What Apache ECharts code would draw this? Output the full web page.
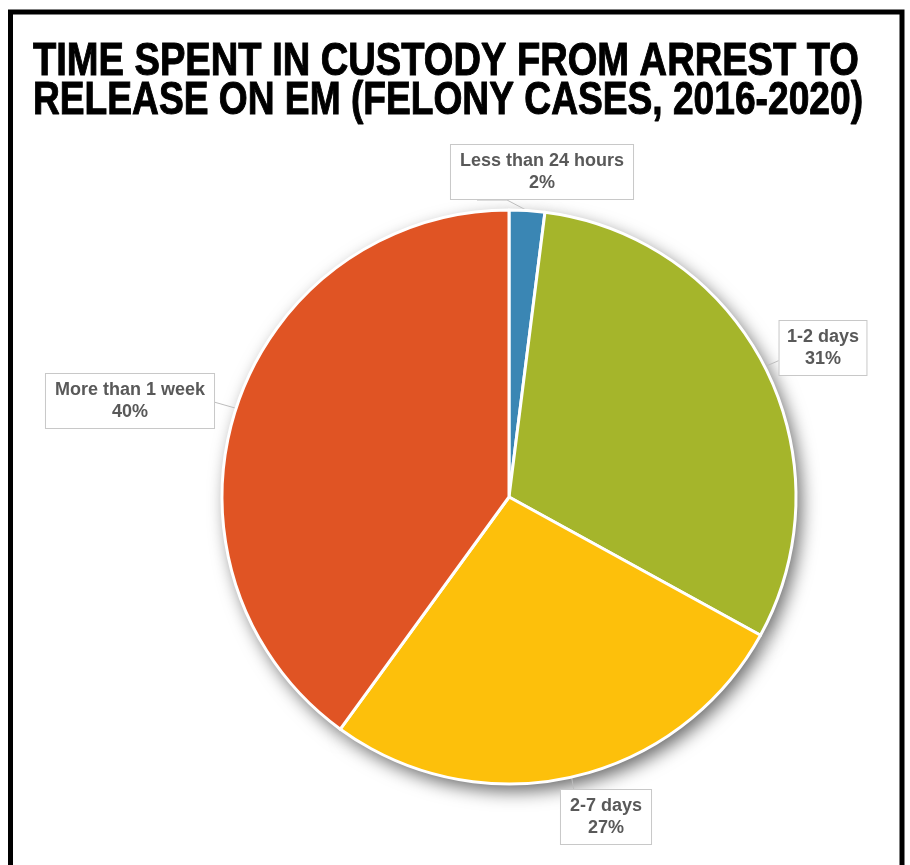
<!DOCTYPE html>
<html>
<head>
<meta charset="utf-8">
<script src="https://cdn.jsdelivr.net/npm/echarts@6/dist/echarts.min.js"></script>
<style>
html,body{margin:0;padding:0;background:#fff;}
#chart{width:910px;height:865px;}
</style>
</head>
<body>
<div id="chart"></div>
<script>
const titleLines = ['TIME SPENT IN CUSTODY FROM ARREST TO', 'RELEASE ON EM (FELONY CASES, 2016-2020)'];
const categories = ['Less than 24 hours', '1-2 days', '2-7 days', 'More than 1 week'];
const values = [2, 31, 27, 40];
const colors = ['#3a86b4', '#a5b52b', '#fdc00b', '#e05424'];

// layout only
const labelCenters = [[542, 172], [823, 348], [606, 817], [130, 401]];
const titleFont = 'bold 46px "Liberation Sans", Arial, sans-serif';
const titleWidths = [826, 830];
const titleY = [62, 101];

function measure(txt) {
  const cv = document.createElement('canvas').getContext('2d');
  cv.font = titleFont;
  return cv.measureText(txt).width;
}

const chart = echarts.init(document.getElementById('chart'), null, {renderer: 'canvas'});

const titleGraphics = titleLines.map((t, i) => ({
  type: 'text',
  x: 33,
  y: titleY[i],
  scaleX: titleWidths[i] / measure(t),
  silent: true,
  style: {
    text: t,
    font: titleFont,
    fill: '#000',
    stroke: '#000',
    lineWidth: 1,
    align: 'left',
    verticalAlign: 'middle'
  }
}));

const pieData = categories.map((c, i) => ({name: c, value: values[i], itemStyle: {color: colors[i]}}));

const option = {
  backgroundColor: '#fff',
  animation: false,
  graphic: titleGraphics.concat([{
    type: 'rect',
    shape: {x: 10.5, y: 12, width: 891.5, height: 900},
    style: {fill: 'none', stroke: '#000', lineWidth: 5},
    silent: true,
    z: 100
  }]),
  series: [{
    // shadow layer underneath the pie
    type: 'pie',
    center: [509, 497],
    radius: 287,
    silent: true,
    z: 1,
    data: categories.map((c, i) => ({name: c, value: values[i]})),
    itemStyle: {
      color: '#fff',
      shadowBlur: 18,
      shadowOffsetX: 5,
      shadowOffsetY: 7,
      shadowColor: 'rgba(0,0,0,0.6)'
    },
    label: {show: false},
    labelLine: {show: false},
    emphasis: {disabled: true}
  }, {
    type: 'pie',
    center: [509, 497],
    radius: 287,
    startAngle: 90,
    clockwise: true,
    z: 2,
    data: pieData,
    itemStyle: {
      borderColor: '#fff',
      borderWidth: 3
    },
    label: {
      show: true,
      formatter: p => p.name + '\n' + Math.round(p.percent) + '%',
      fontFamily: 'Liberation Sans, Arial, sans-serif',
      fontWeight: 'bold',
      fontSize: 18,
      lineHeight: 22,
      color: '#595959',
      backgroundColor: '#fff',
      borderColor: '#c8c8c8',
      borderWidth: 1,
      padding: [5, 9],
      align: 'center',
      overflow: 'none'
    },
    labelLine: {
      show: true,
      lineStyle: {color: '#bdbdbd', width: 1}
    },
    labelLayout: function (params) {
      const i = params.dataIndex;
      const c = labelCenters[i];
      const r = params.labelRect;
      const p0 = params.labelLinePoints ? params.labelLinePoints[0] : [c[0], c[1]];
      const left = c[0] - r.width / 2, right = c[0] + r.width / 2;
      const top = c[1] - r.height / 2, bottom = c[1] + r.height / 2;
      let pts;
      if (i === 0) pts = [p0, [p0[0] - 20, bottom], [p0[0] - 50, bottom]];
      else if (i === 1) pts = [p0, [left, p0[1] - 6], [left, p0[1] - 6]];
      else if (i === 2) pts = [p0, [p0[0] + 2, top], [p0[0] + 2, top]];
      else pts = [p0, [right, p0[1] - 6], [right, p0[1] - 6]];
      return {
        x: c[0],
        y: c[1],
        align: 'center',
        verticalAlign: 'middle',
        labelLinePoints: pts
      };
    }
  }]
};
chart.setOption(option);
</script>
</body>
</html>
